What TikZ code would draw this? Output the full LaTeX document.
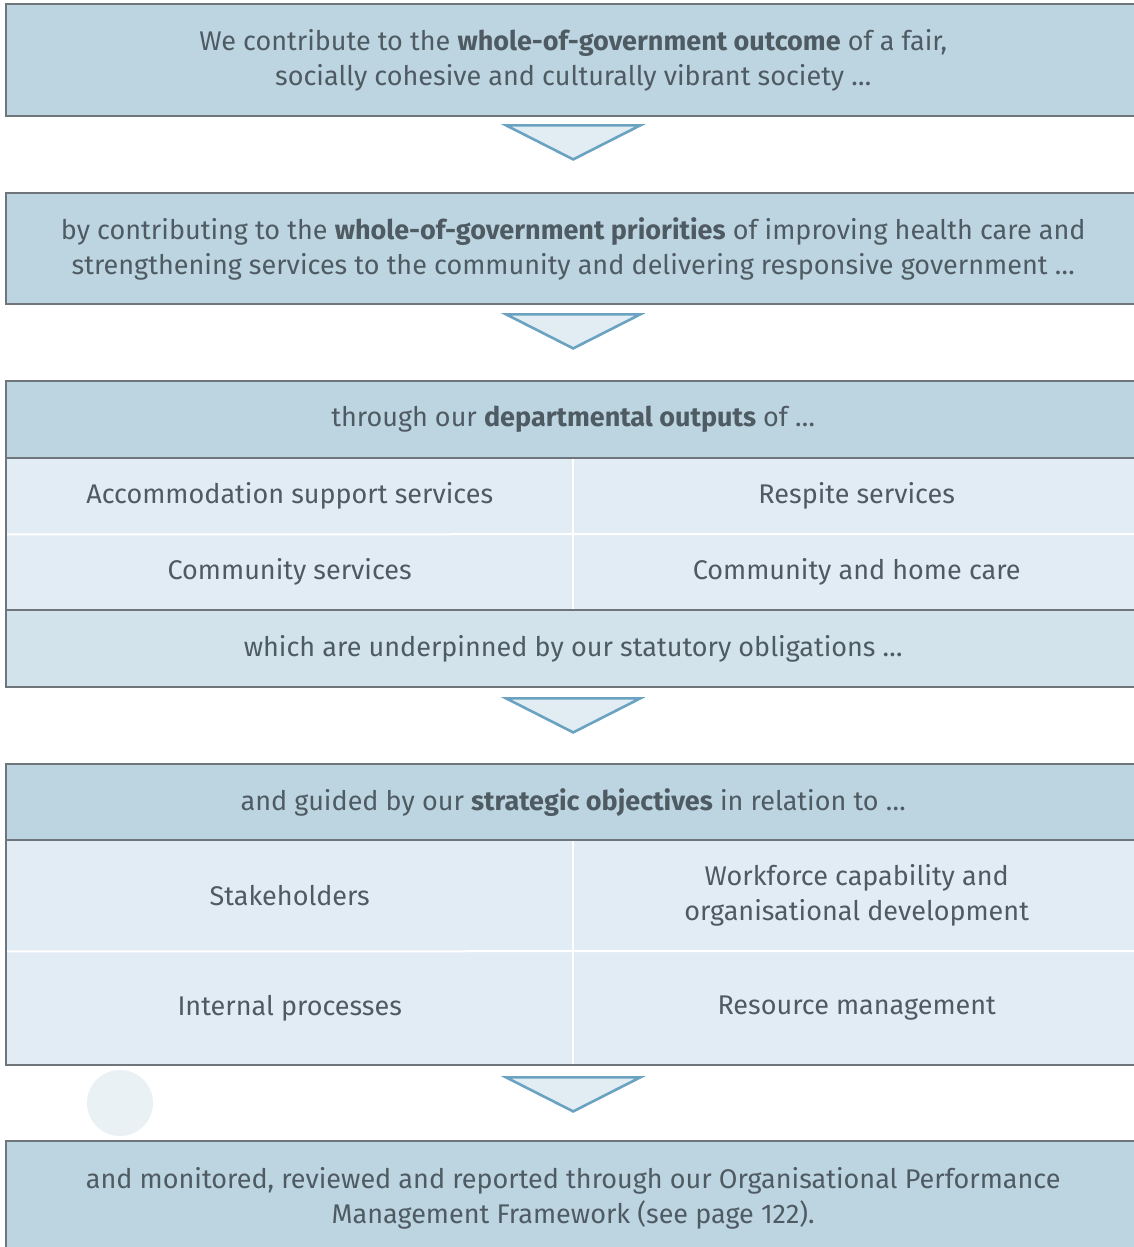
\documentclass[tikz,border=0pt]{standalone}
\usepackage{fontspec}
\setmainfont{Fira Sans}
\usetikzlibrary{calc}

\definecolor{hdr}{HTML}{BDD5E1}
\definecolor{cell}{HTML}{E2ECF4}
\definecolor{foot}{HTML}{D3E3EB}
\definecolor{edge}{HTML}{6E767B}
\definecolor{arrowline}{HTML}{6AA3C1}
\definecolor{arrowfill}{HTML}{E2ECF3}
\definecolor{txt}{HTML}{4F5B63}
\definecolor{dot}{HTML}{E9F1F5}

\tikzset{
  txtfont/.style={text=txt, font=\fontsize{27}{35}\selectfont, align=center},
  band/.style={txtfont, fill=hdr, inner sep=0pt, minimum width=1134pt, anchor=north west},
  halfcell/.style={txtfont, fill=cell, inner sep=0pt, minimum width=567pt, anchor=north west},
  border/.style={draw=edge, line width=2pt},
  divider/.style={draw=white, line width=2pt},
  chevron/.style={draw=arrowline, fill=arrowfill, line width=2.6pt, line join=miter},
}

% downward chevron hanging #2 pt below the named point #1
\newcommand{\chevronbelow}[2]{%
  \draw[chevron] ($(#1)+(-67,#2)$) -- ($(#1)+(67,#2)$)
    -- ($(#1)+(0,#2+34)$) -- cycle;}

\begin{document}
\begin{tikzpicture}[x=1pt,y=-1pt]
  \clip (0,0) rectangle (1134,1247);
  \fill[white] (0,0) rectangle (1134,1247);

  % outcome
  \node[band, minimum height=112pt] (outcome) at (6,4)
    {We contribute to the \textbf{whole-of-government outcome} of a fair,\\
     socially cohesive and culturally vibrant society \dots};
  \draw[border] (outcome.north east) -- (outcome.north west)
    -- (outcome.south west) -- (outcome.south east);

  % priorities
  \node[band, minimum height=111pt] (priorities) at (6,193)
    {by contributing to the \textbf{whole-of-government priorities} of improving health care and\\
     strengthening services to the community and delivering responsive government \dots};
  \draw[border] (priorities.north east) -- (priorities.north west)
    -- (priorities.south west) -- (priorities.south east);

  % departmental outputs
  \node[band, minimum height=77pt] (outHead) at (6,381)
    {through our \textbf{departmental outputs} of \dots};
  \node[halfcell, minimum height=76pt] (accom) at (6,458) {Accommodation support services};
  \node[halfcell, minimum height=76pt] (respite) at (573,458) {Respite services};
  \node[halfcell, minimum height=76pt] (commserv) at (6,534) {Community services};
  \node[halfcell, minimum height=76pt] (homecare) at (573,534) {Community and home care};
  \node[band, fill=foot, minimum height=77pt] (statutory) at (6,610)
    {which are underpinned by our statutory obligations \dots};
  \draw[divider] (accom.north east) -- (commserv.south east);
  \draw[divider] (accom.south west) -- (homecare.north east);
  \draw[border] (outHead.south west) -- (outHead.south east);
  \draw[border] (statutory.north west) -- (statutory.north east);
  \draw[border] (outHead.north east) -- (outHead.north west)
    -- (statutory.south west) -- (statutory.south east);

  % strategic objectives
  \node[band, minimum height=76pt] (objHead) at (6,764)
    {and guided by our \textbf{strategic objectives} in relation to \dots};
  \node[halfcell, minimum height=111pt] (stake) at (6,840) {Stakeholders};
  \node[halfcell, minimum height=111pt] (workforce) at (573,840)
    {Workforce capability and\\organisational development};
  \node[halfcell, minimum height=114pt] (internal) at (6,951) {Internal processes};
  \node[halfcell, minimum height=114pt] (resource) at (573,951) {Resource management};
  \draw[divider] (stake.north east) -- (internal.south east);
  \draw[divider] (stake.south west) -- (resource.north east);
  \draw[border] (objHead.south west) -- (objHead.south east);
  \draw[border] (objHead.north east) -- (objHead.north west)
    -- (internal.south west) -- (resource.south east);
  \coordinate (objBottom) at ($(internal.south west)!0.5!(resource.south east)$);

  % monitoring
  \node[band, minimum height=114pt] (monitor) at (6,1141)
    {and monitored, reviewed and reported through our Organisational Performance\\
     Management Framework (see page 122).};
  \draw[border] (monitor.north east) -- (monitor.north west) -- (monitor.south west);

  % chevrons between the stages
  \chevronbelow{outcome.south}{9}
  \chevronbelow{priorities.south}{10}
  \chevronbelow{statutory.south}{11}
  \chevronbelow{objBottom}{12}

  % faint dot
  \fill[dot] (120,1103) circle (33pt);
\end{tikzpicture}
\end{document}
